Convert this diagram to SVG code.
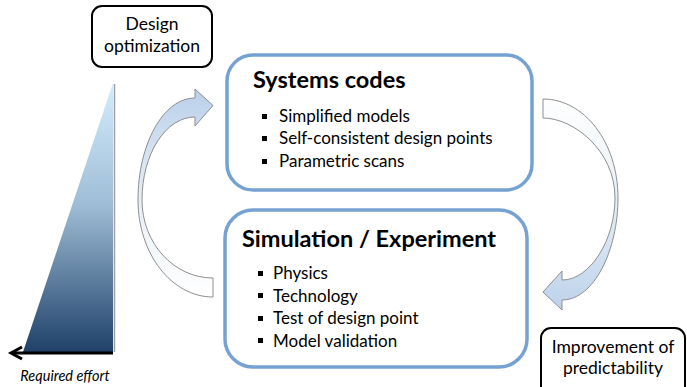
<svg xmlns="http://www.w3.org/2000/svg" width="687" height="387" viewBox="0 0 687 387">
<defs>
<linearGradient id="tri" x1="0" y1="83" x2="0" y2="352" gradientUnits="userSpaceOnUse">
<stop offset="0" stop-color="#d2edfd"/>
<stop offset="0.45" stop-color="#9fbdd6"/>
<stop offset="1" stop-color="#1f4169"/>
</linearGradient>
<linearGradient id="upArrow" x1="0" y1="95" x2="0" y2="297" gradientUnits="userSpaceOnUse">
<stop offset="0" stop-color="#bcd2ea"/>
<stop offset="0.5" stop-color="#e6eef7"/>
<stop offset="1" stop-color="#ffffff"/>
</linearGradient>
<linearGradient id="downArrow" x1="0" y1="99" x2="0" y2="310" gradientUnits="userSpaceOnUse">
<stop offset="0" stop-color="#ffffff"/>
<stop offset="0.5" stop-color="#e6eef7"/>
<stop offset="1" stop-color="#bcd2ea"/>
</linearGradient>
<style>
.lbl{font-family:Lato,"Liberation Sans",sans-serif;fill:#000}
.blackbox{fill:#fff;stroke:#000;stroke-width:2}
.bluebox{fill:#fff;stroke:#76a2d3;stroke-width:3.5}
.title{font-size:23.5px;font-weight:bold}
.item{font-size:17px}
.curv{stroke:#8e8e8e;stroke-width:1}
</style>
</defs>

<g id="effort">
<polygon points="113,83 113,352 23,352" fill="url(#tri)"/>
<line x1="114.5" y1="84" x2="114.5" y2="352" stroke="#a0a0a0" stroke-width="1.5"/>
<polyline points="113,353 12,353" fill="none" stroke="#000" stroke-width="3"/>
<polyline points="22,347 11,353 22,359" fill="none" stroke="#000" stroke-width="3" stroke-linejoin="miter"/>
<text class="lbl" x="65" y="381" font-size="14.5" font-style="italic" text-anchor="middle">Required effort</text>
</g>

<g id="design-optimization">
<rect class="blackbox" x="92" y="6" width="120" height="61" rx="10"/>
<text class="lbl" x="152" y="30" font-size="17.5" text-anchor="middle">Design</text>
<text class="lbl" x="152" y="52" font-size="17.5" text-anchor="middle">optimization</text>
</g>

<g id="systems-codes">
<rect class="bluebox" x="227" y="55" width="305" height="135" rx="26"/>
<text class="lbl title" x="253" y="88">Systems codes</text>
<rect x="262" y="114" width="5" height="5"/>
<rect x="262" y="136" width="5" height="5"/>
<rect x="262" y="159" width="5" height="5"/>
<text class="lbl item" x="279" y="122">Simplified models</text>
<text class="lbl item" x="279" y="144">Self-consistent design points</text>
<text class="lbl item" x="279" y="167">Parametric scans</text>
</g>

<g id="simulation-experiment">
<rect class="bluebox" x="225" y="210" width="302" height="157" rx="28"/>
<text class="lbl title" x="242" y="247">Simulation / Experiment</text>
<rect x="258" y="271" width="5" height="5"/>
<rect x="258" y="293" width="5" height="5"/>
<rect x="258" y="316" width="5" height="5"/>
<rect x="258" y="338" width="5" height="5"/>
<text class="lbl item" x="273" y="279">Physics</text>
<text class="lbl item" x="273" y="302">Technology</text>
<text class="lbl item" x="273" y="324">Test of design point</text>
<text class="lbl item" x="273" y="347">Model validation</text>
</g>

<g id="improvement-of-predictability">
<rect class="blackbox" x="541" y="328" width="144" height="70" rx="10"/>
<text class="lbl" x="613" y="353" font-size="17.5" text-anchor="middle">Improvement of</text>
<text class="lbl" x="613" y="374" font-size="17.5" text-anchor="middle">predictability</text>
</g>

<g id="connectors">
<path class="curv" fill="url(#upArrow)" d="M213,278 L213,297 C171.6,297 138,253.5 138,200 C138,143.7 163.5,98 195,98 L195,89 L213,105.5 L195,126 L195,117 C165.7,117 142,154 142,200 C142,243 173.8,278 213,278 Z"/>
<path class="curv" fill="url(#downArrow)" d="M543,99 L543,118 C573,118 615,150 615,198 C615,240 590,280 562,280 L562,271 L543,292 L562,310 L562,300 C594,300 618,250 618,198 C618,142 584,99 543,99 Z"/>
</g>
</svg>
